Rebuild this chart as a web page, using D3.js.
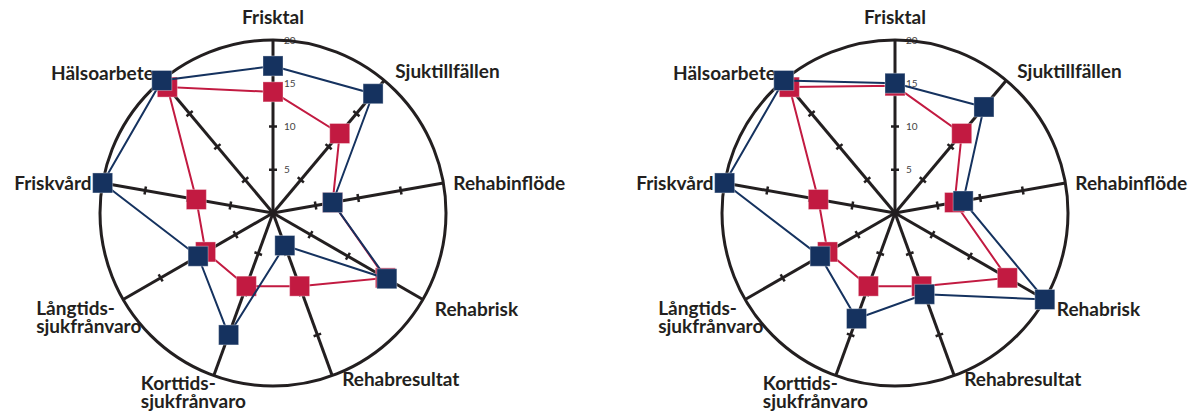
<!DOCTYPE html>
<html>
<head>
<meta charset="utf-8">
<script src="https://cdn.jsdelivr.net/npm/d3@7"></script>
<style>
  body { margin: 0; background: #fff; }
  .axisLabel { font-family: Lato, "Open Sans", sans-serif; font-weight: 700; font-size: 19px; fill: #231f20; }
  .tickLabel { font-family: Lato, "Open Sans", sans-serif; font-size: 10px; fill: #444; }
</style>
</head>
<body>
<div id="chart"></div>
<script>
// axes of the radar, clockwise from the top
const axes = ['Frisktal', 'Sjuktillfällen', 'Rehabinflöde', 'Rehabrisk', 'Rehabresultat',
  'Korttids-sjukfrånvaro', 'Långtids-sjukfrånvaro', 'Friskvård', 'Hälsoarbete'];
const tickValues = [5, 10, 15, 20];

// left chart
const leftRed = [14, 12, 7, 15, 9, 9, 9, 9, 19];
const leftBlue = [17, 18, 7, 15.2, 4, 15, 10, 20, 20];
// right chart
const rightRed = [14.7, 12, 7, 15, 9, 9, 9, 9, 19];
const rightBlue = [15, 16, 8, 20, 10, 13, 10, 20, 20];

const colors = { red: '#c21a41', blue: '#15325f', ink: '#231f20' };

const width = 1193, height = 412;
const radius = 173;
const lineGap = 18;

// label placement per axis: offset from the axis end, anchor
const labelLayout = [
  { dx: 0, dy: -16, anchor: 'middle' },
  { dx: 11, dy: -2, anchor: 'start' },
  { dx: 10, dy: 7, anchor: 'start' },
  { dx: 12, dy: 16, anchor: 'start' },
  { dx: 10, dy: 10, anchor: 'start' },
  { dx: -73, dy: 14, anchor: 'start' },
  { dx: -87, dy: 15, anchor: 'start' },
  { dx: -11, dy: 7, anchor: 'end' },
  { dx: -8, dy: 0, anchor: 'end' }
];

const svg = d3.select('#chart')
  .append('svg')
  .attr('width', width)
  .attr('height', height);

const r = d3.scaleLinear().domain([0, 20]).range([0, radius]);
const angle = d3.scalePoint().domain(axes).range([0, 2 * Math.PI * (axes.length - 1) / axes.length]);

function pt(a, v) {
  const t = angle(a);
  return [Math.sin(t) * r(v), -Math.cos(t) * r(v)];
}

function radar(cx, cy, red, blue) {
  const g = svg.append('g').attr('transform', 'translate(' + cx + ',' + cy + ')');

  // tick labels on the first axis
  g.append('g')
    .selectAll('text')
    .data(tickValues)
    .join('text')
    .attr('class', 'tickLabel')
    .attr('x', 11)
    .attr('y', d => -r(d))
    .attr('dy', '0.35em')
    .text(d => d);

  // outer circle
  g.append('circle')
    .attr('r', r(20))
    .attr('fill', 'none')
    .attr('stroke', colors.ink)
    .attr('stroke-width', 3);

  // spokes
  const spokes = g.append('g')
    .selectAll('g')
    .data(axes)
    .join('g')
    .attr('transform', d => 'rotate(' + (angle(d) * 180 / Math.PI) + ')');

  spokes.append('line')
    .attr('x1', 0).attr('y1', 0)
    .attr('x2', 0).attr('y2', -r(20))
    .attr('stroke', colors.ink)
    .attr('stroke-width', 3);

  spokes.selectAll('.tick')
    .data(tickValues.slice(0, 3))
    .join('line')
    .attr('class', 'tick')
    .attr('x1', -4).attr('x2', 4)
    .attr('y1', d => -r(d)).attr('y2', d => -r(d))
    .attr('stroke', colors.ink)
    .attr('stroke-width', 2.5);

  // axis labels, hyphenated names wrap onto two lines
  axes.forEach((a, i) => {
    const [x, y] = pt(a, 20);
    const lay = labelLayout[i];
    const parts = a.includes('-') ? [a.split('-')[0] + '-', a.split('-')[1]] : [a];
    parts.forEach((p, j) => {
      g.append('text')
        .attr('class', 'axisLabel')
        .attr('text-anchor', lay.anchor)
        .attr('x', x + lay.dx)
        .attr('y', y + lay.dy + j * lineGap)
        .text(p);
    });
  });

  // series: red first, blue on top
  [[red, colors.red], [blue, colors.blue]].forEach(([vals, col]) => {
    const pts = axes.map((a, i) => pt(a, vals[i]));
    g.append('path')
      .datum(pts)
      .attr('d', d3.line().curve(d3.curveLinearClosed))
      .attr('fill', 'none')
      .attr('stroke', col)
      .attr('stroke-width', 2);

    g.append('g')
      .selectAll('rect')
      .data(pts)
      .join('rect')
      .attr('x', d => d[0] - 10)
      .attr('y', d => d[1] - 10)
      .attr('width', 20)
      .attr('height', 20)
      .attr('fill', col)
      .attr('stroke', '#fff')
      .attr('stroke-opacity', 0.35)
      .attr('stroke-width', 1);
  });
}

radar(273, 213, leftRed, leftBlue);
radar(895, 213, rightRed, rightBlue);
</script>
</body>
</html>
